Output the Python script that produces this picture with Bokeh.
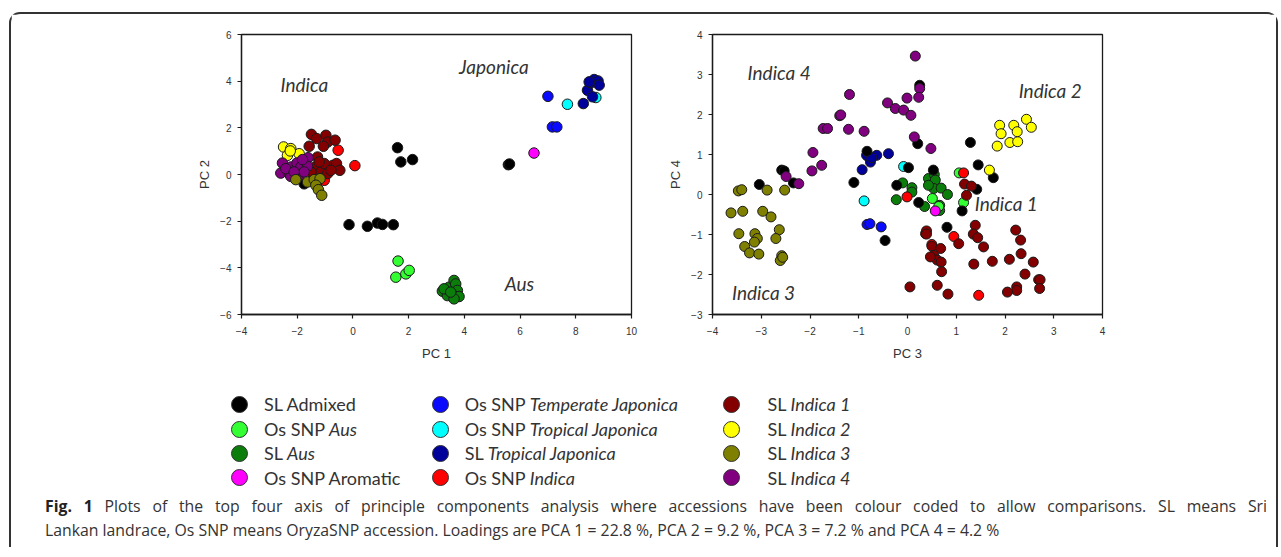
from bokeh.plotting import figure
from bokeh.models import Div, Label, FixedTicker
from bokeh.layouts import column, row
from bokeh.embed import file_html
from bokeh.resources import INLINE

# ---------------- data ----------------
legend_names = ["SL Admixed", "Os SNP Aus", "SL Aus", "Os SNP Aromatic",
                "Os SNP Temperate Japonica", "Os SNP Tropical Japonica", "SL Tropical Japonica", "Os SNP Indica",
                "SL Indica 1", "SL Indica 2", "SL Indica 3", "SL Indica 4"]
legend_italic = ["", "Aus", "Aus", "",
                 "Temperate Japonica", "Tropical Japonica", "Tropical Japonica", "Indica",
                 "Indica 1", "Indica 2", "Indica 3", "Indica 4"]
group_colors = ["#000000", "#33ff33", "#0b7d0b", "#ff00ff",
                "#0a0aff", "#00ffff", "#00009a", "#ff0000",
                "#840000", "#ffff00", "#808000", "#800080"]

# Plot 1 (PC1, PC2)
admixed_pc1 = [1.60, 1.72, 2.14, 5.58, 5.62, -0.14, 0.52, 0.88, 1.06, 1.45, -1.75]
admixed_pc2 = [1.15, 0.54, 0.64, 0.42, 0.45, -2.15, -2.22, -2.08, -2.14, -2.15, -0.40]
os_aus_pc1 = [1.62, 1.54, 1.90, 2.02]
os_aus_pc2 = [-3.71, -4.40, -4.26, -4.11]
sl_aus_pc1 = [3.21, 3.45, 3.63, 3.69, 3.75, 3.57, 3.81, 3.39, 3.27, 3.63, 3.51]
sl_aus_pc2 = [-5.00, -4.83, -4.54, -4.69, -4.97, -5.14, -5.23, -5.19, -4.90, -5.33, -5.04]
aromatic_pc1 = [6.50]
aromatic_pc2 = [0.92]
temp_jap_pc1 = [7.00, 7.16, 7.32]
temp_jap_pc2 = [3.35, 2.04, 2.04]
trop_jap_pc1 = [7.70, 8.72]
trop_jap_pc2 = [3.01, 3.30]
sl_trop_jap_pc1 = [8.27, 8.42, 8.54, 8.66, 8.80, 8.84, 8.60, 8.48]
sl_trop_jap_pc2 = [3.04, 3.61, 3.93, 4.07, 4.01, 3.83, 3.33, 3.97]
os_indica_pc1 = [-0.53, 0.07, -1.03]
os_indica_pc2 = [1.04, 0.38, -0.25]
indica1_pc1 = [-1.49, -1.30, -0.97, -0.91, -0.64, -1.57, -1.06, -1.27, -1.37, -1.15, -0.91, -0.73, -0.59, -0.47,
               -1.03, -1.51, -0.79, -1.21]
indica1_pc2 = [1.72, 1.54, 1.68, 1.39, 1.47, 1.21, 1.21, 0.75, 0.32, 0.11, 0.04, 0.39, 0.47, 0.18,
               0.47, 0.11, 0.18, 0.54]
indica2_pc1 = [-2.49, -2.23, -1.93, -2.35, -2.25]
indica2_pc2 = [1.18, 1.11, 0.89, 0.82, 1.01]
indica3_pc1 = [-1.63, -1.39, -1.18, -1.33, -1.24, -1.12, -2.05]
indica3_pc2 = [-0.32, -0.22, -0.18, -0.46, -0.65, -0.89, -0.22]
indica4_pc1 = [-2.53, -2.59, -2.29, -2.23, -2.01, -1.87, -1.61, -1.63, -1.96, -2.23, -1.75, -2.41, -2.11, -1.81]
indica4_pc2 = [0.49, 0.06, 0.04, 0.32, 0.49, 0.32, 0.72, 0.35, -0.08, -0.08, 0.11, 0.25, 0.11, 0.64]

# Plot 2 (PC3, PC4)
admixed_pc3 = [0.25, 0.21, 1.29, 1.45, 1.76, 1.42, 1.12, 0.81, 0.23, 0.53, 0.02, -0.22, -0.83, -1.10, -0.46,
               -2.58, -2.53, -2.34, -3.04]
admixed_pc4 = [2.73, 1.27, 1.30, 0.74, 0.42, 0.13, -0.41, -0.82, -0.20, 0.61, 0.67, 0.23, 1.08, 0.30, -1.15,
               0.61, 0.59, 0.29, 0.25]
os_aus_pc3 = [1.06, 0.51, 1.15, 0.64]
os_aus_pc4 = [0.54, -0.10, -0.20, -0.30]
sl_aus_pc3 = [-0.10, -0.23, 0.09, 0.09, 0.35, 0.43, 0.55, 0.57, 0.54, 0.69, 0.82, 0.66, 0.66, 0.43]
sl_aus_pc4 = [0.29, -0.13, 0.17, 0.06, -0.30, 0.40, 0.50, 0.36, 0.15, 0.16, 0.00, -0.27, -0.40, 0.23]
aromatic_pc3 = [0.57]
aromatic_pc4 = [-0.41]
temp_jap_pc3 = [-0.83, -0.77, -0.54]
temp_jap_pc4 = [-0.75, -0.73, -0.81]
trop_jap_pc3 = [-0.89, -0.08]
trop_jap_pc4 = [-0.16, 0.70]
sl_trop_jap_pc3 = [-0.80, -0.76, -0.84, -0.63, -0.39, -0.93, -0.73]
sl_trop_jap_pc4 = [0.94, 0.81, 0.98, 0.98, 1.02, 0.62, 0.92]
os_indica_pc3 = [1.15, -0.01, 0.37, 0.50, 0.95, 1.46]
os_indica_pc4 = [0.54, -0.06, -0.98, -1.25, -1.05, -2.52]
indica1_pc3 = [1.17, 1.31, 1.21, 1.39, 1.35, 1.44, 1.56, 1.05, 0.39, 0.39, 0.50, 0.68, 0.54, 0.61, 0.69, 0.47,
               0.70, 1.36, 1.74, 2.09, 2.22, 2.32, 2.33, 2.58, 2.41, 2.69, 2.72, 2.71, 2.24, 2.24, 2.05, 0.61,
               0.83, 0.05]
indica1_pc4 = [0.26, 0.21, -0.02, -0.77, -0.99, -1.08, -1.31, -1.23, -0.91, -0.99, -1.29, -1.35, -1.52, -1.64,
               -1.69, -1.56, -1.93, -1.74, -1.67, -1.62, -0.89, -1.14, -1.48, -1.69, -1.99, -2.13, -2.13, -2.35,
               -2.31, -2.40, -2.44, -2.27, -2.49, -2.31]
indica2_pc3 = [1.89, 1.92, 1.84, 2.10, 2.26, 2.18, 2.25, 2.44, 2.54, 1.68]
indica2_pc4 = [1.73, 1.52, 1.21, 1.30, 1.32, 1.73, 1.57, 1.88, 1.68, 0.61]
indica3_pc3 = [-3.47, -3.40, -2.88, -2.52, -3.62, -3.38, -2.97, -2.80, -3.46, -3.13, -3.08, -3.14, -2.63, -2.70,
               -3.34, -3.24, -3.05, -2.58, -2.61, -2.56]
indica3_pc4 = [0.09, 0.12, 0.11, 0.11, -0.46, -0.42, -0.42, -0.56, -0.98, -0.98, -1.10, -1.19, -0.88, -1.10,
               -1.30, -1.46, -1.49, -1.53, -1.65, -1.57]
indica4_pc3 = [0.16, 0.25, 0.23, -1.19, -0.41, -0.25, -0.08, 0.07, -0.01, -1.39, -1.37, -1.73, -1.64, -1.21,
               -0.89, 0.14, 0.48, -1.94, -1.76, -1.96, -2.49, -2.23]
indica4_pc4 = [3.46, 2.65, 2.43, 2.50, 2.29, 2.15, 2.11, 1.98, 2.41, 1.97, 1.99, 1.65, 1.65, 1.63,
               1.58, 1.44, 1.15, 1.05, 0.73, 0.59, 0.45, 0.27]

x1_ticks = [-4, -2, 0, 2, 4, 6, 8, 10]
y1_ticks = [-6, -4, -2, 0, 2, 4, 6]
x2_ticks = [-4, -3, -2, -1, 0, 1, 2, 3, 4]
y2_ticks = [-3, -2, -1, 0, 1, 2, 3, 4]

caption_bold = "Fig. 1"
caption_line1 = ("Plots of the top four axis of principle components analysis where accessions have been "
                 "colour coded to allow comparisons. SL means Sri")
caption_line2 = ("Lankan landrace, Os SNP means OryzaSNP accession. Loadings are PCA 1 = 22.8 %, "
                 "PCA 2 = 9.2 %, PCA 3 = 7.2 % and PCA 4 = 4.2 %")

# (group index, plot-1 x, plot-1 y, plot-2 x, plot-2 y) in drawing order
series = [
    (5, trop_jap_pc1, trop_jap_pc2, trop_jap_pc3, trop_jap_pc4),
    (4, temp_jap_pc1, temp_jap_pc2, temp_jap_pc3, temp_jap_pc4),
    (6, sl_trop_jap_pc1, sl_trop_jap_pc2, sl_trop_jap_pc3, sl_trop_jap_pc4),
    (2, sl_aus_pc1, sl_aus_pc2, sl_aus_pc3, sl_aus_pc4),
    (1, os_aus_pc1, os_aus_pc2, os_aus_pc3, os_aus_pc4),
    (3, aromatic_pc1, aromatic_pc2, aromatic_pc3, aromatic_pc4),
    (0, admixed_pc1, admixed_pc2, admixed_pc3, admixed_pc4),
    (7, os_indica_pc1, os_indica_pc2, os_indica_pc3, os_indica_pc4),
    (8, indica1_pc1, indica1_pc2, indica1_pc3, indica1_pc4),
    (9, indica2_pc1, indica2_pc2, indica2_pc3, indica2_pc4),
    (11, indica4_pc1, indica4_pc2, indica4_pc3, indica4_pc4),
    (10, indica3_pc1, indica3_pc2, indica3_pc3, indica3_pc4),
]

AX = "#1a1a1a"
TXT = "#333333"


def make_fig(w, h, xr, yr, xt, yt, xlab, ylab, mbl, mbr, als_y):
    p = figure(width=w, height=h, x_range=xr, y_range=yr, output_backend="svg",
               toolbar_location=None, min_border_left=mbl, min_border_right=mbr,
               min_border_top=20, min_border_bottom=51)
    p.xgrid.visible = False
    p.ygrid.visible = False
    p.outline_line_color = AX
    p.outline_line_width = 1.3
    p.background_fill_color = "white"
    p.border_fill_color = "white"
    p.xaxis.ticker = FixedTicker(ticks=xt)
    p.yaxis.ticker = FixedTicker(ticks=yt)
    p.xaxis.axis_label = xlab
    p.yaxis.axis_label = ylab
    for ax in (p.xaxis[0], p.yaxis[0]):
        ax.axis_line_color = AX
        ax.axis_line_width = 1.3
        ax.major_tick_line_color = AX
        ax.major_tick_line_width = 1.2
        ax.major_tick_out = 4
        ax.major_tick_in = 0
        ax.minor_tick_out = 0
        ax.minor_tick_in = 0
        ax.major_label_text_font = "Liberation Sans"
        ax.major_label_text_font_size = "10px"
        ax.major_label_text_color = TXT
        ax.major_label_standoff = 6
        ax.axis_label_text_font = "Liberation Sans"
        ax.axis_label_text_font_size = "13px"
        ax.axis_label_text_font_style = "normal"
        ax.axis_label_text_color = TXT
    p.xaxis.major_label_standoff = 8
    p.xaxis.axis_label_standoff = 8
    p.yaxis.axis_label_standoff = als_y
    return p


fig1 = make_fig(650, 351, (-4, 10), (-6, 6), x1_ticks, y1_ticks, "PC 1", "PC 2", 230, 30, 5)
fig2 = make_fig(615, 351, (-4, 4), (-3, 4), x2_ticks, y2_ticks, "PC 3", "PC 4", 51, 174, 5)

for gi, a, b, c, d in series:
    col = group_colors[gi]
    fig1.scatter(a, b, size=10.5, fill_color=col, line_color="#1a1a1a", line_width=1)
    fig2.scatter(c, d, size=10, fill_color=col, line_color="#1a1a1a", line_width=1)


def note(p, x, y, t):
    p.add_layout(Label(x=x, y=y, text=t, text_font="Lato", text_font_style="italic",
                       text_font_size="19px", text_color=TXT, text_baseline="middle"))


note(fig1, -2.6, 3.86, "Indica")
note(fig1, 3.81, 4.64, "Japonica")
note(fig1, 5.45, -4.69, "Aus")
note(fig2, -3.28, 3.04, "Indica 4")
note(fig2, 2.28, 2.61, "Indica 2")
note(fig2, 1.38, -0.23, "Indica 1")
note(fig2, -3.60, -2.44, "Indica 3")

# ---------------- legend (HTML) ----------------
leg_cols_circle = [228.5, 429, 720.6]
leg_cols_text = [253, 453.7, 756.5]
leg_rows = [39.3, 64.3, 88.3, 112.5]
items = []
for i, (name, ital, col) in enumerate(zip(legend_names, legend_italic, group_colors)):
    c, r = divmod(i, 4)
    html_name = name.replace(ital, "<i>" + ital + "</i>") if ital else name
    cx, cy = leg_cols_circle[c], leg_rows[r]
    items.append(
        f'<span style="position:absolute;left:{cx - 8.5}px;top:{cy - 8.5}px;width:17px;height:17px;'
        f'border-radius:50%;background:{col};border:1px solid #333;box-sizing:border-box;"></span>')
    items.append(
        f'<span style="position:absolute;left:{leg_cols_text[c]}px;top:{cy - 11}px;line-height:22px;'
        f'white-space:nowrap;">{html_name}</span>')
legend_div = Div(
    text='<div style="position:relative;width:1265px;height:120px;font-family:Lato;font-size:18px;'
         f'color:{TXT};">' + "".join(items) + "</div>",
    width=1265, height=120, margin=0)

caption_div = Div(
    text='<div style="position:relative;width:1265px;height:62px;font-family:\'Open Sans\';font-size:15.8px;'
         f'color:{TXT};">'
         '<div style="position:absolute;left:34px;top:9.5px;width:1222px;line-height:23px;'
         'text-align:justify;text-align-last:justify;white-space:normal;">'
         f'<b style="color:#222;">{caption_bold}</b> {caption_line1}</div>'
         '<div style="position:absolute;left:34px;top:33.5px;line-height:23px;white-space:nowrap;">'
         f'{caption_line2}</div></div>',
    width=1265, height=62, margin=0)

root = column(row(fig1, fig2), legend_div, caption_div, margin=(12, 0, 0, 9),
              styles={"border-top": "2px solid #333", "border-left": "2px solid #333",
                      "border-right": "2px solid #333", "border-radius": "11px 11px 0 0",
                      "background": "white"})

open("out.html", "w").write(file_html(root, INLINE))
